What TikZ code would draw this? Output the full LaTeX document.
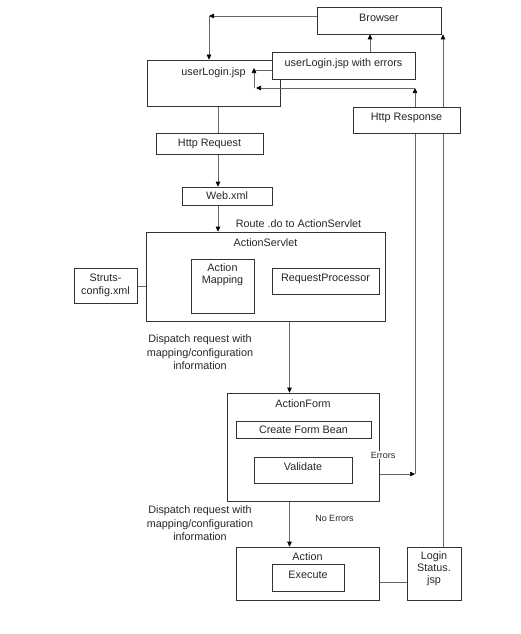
\documentclass[tikz,border=0pt]{standalone}
\usepackage{fontspec}
\setmainfont{Liberation Sans}
\usetikzlibrary{arrows.meta}
\pgfdeclarelayer{bg}
\pgfsetlayers{bg,main}
\begin{document}
\begin{tikzpicture}[x=1pt,y=-1pt,
  box/.style={draw=black!80, line width=0.6pt, fill=white, inner sep=0pt, align=center,
    text=black!85, font=\fontsize{10.8}{12}\selectfont},
  raised/.style={text depth=6pt},
  toplabel/.style={font=\fontsize{10.8}{12}\selectfont, text=black!85, align=center, inner sep=0pt},
  conn/.style={draw=black!60, line width=0.6pt},
  arr/.style={conn, -{Triangle[length=5pt,width=4.5pt,fill=black,color=black]}},
  txt/.style={font=\fontsize{10.8}{13.5}\selectfont, text=black!85, align=center, inner sep=0pt},
  smalltxt/.style={font=\fontsize{9}{11}\selectfont, text=black!85, inner sep=1pt}]
\useasboundingbox (0,0) rectangle (520,634);

% boxes
\node[box, raised, minimum width=124pt, minimum height=27pt] (browser) at (379,20.5) {Browser};
\node[box, minimum width=133pt, minimum height=46pt,
  label={[toplabel, anchor=center, yshift=-13pt]north:userLogin.jsp}] (ul) at (213.5,83) {};
\node[box, raised, minimum width=143pt, minimum height=27pt] (ule) at (343.5,65.5) {userLogin.jsp with errors};
\node[box, raised, minimum width=107pt, minimum height=26pt] (hresp) at (406.5,120) {Http Response};
\node[box, minimum width=107pt, minimum height=21pt] (hreq) at (209.5,143.5) {Http Request};
\node[box, minimum width=90pt, minimum height=18pt] (web) at (227,196) {Web.xml};
\node[box, minimum width=239pt, minimum height=89pt,
  label={[toplabel, anchor=center, yshift=-11pt]north:ActionServlet}] (as) at (265.5,276.5) {};
\node[box, minimum width=63pt, minimum height=35pt, font=\fontsize{10.8}{12.5}\selectfont] (struts) at (105.5,285.5) {Struts-\\config.xml};
\node[box, minimum width=63pt, minimum height=54pt,
  label={[toplabel, anchor=center, yshift=-16pt]north:Action\\Mapping}] (am) at (222.5,286) {};
\node[box, raised, minimum width=107pt, minimum height=26pt] (rp) at (325.5,281) {RequestProcessor};
\node[box, minimum width=152pt, minimum height=108pt,
  label={[toplabel, anchor=center, yshift=-11pt]north:ActionForm}] (af) at (303,447) {};
\node[box, minimum width=135pt, minimum height=17pt] (cfb) at (303.5,429.5) {Create Form Bean};
\node[box, raised, minimum width=98pt, minimum height=26pt] (val) at (303,470) {Validate};
\node[box, minimum width=143pt, minimum height=53pt,
  label={[toplabel, anchor=center, yshift=-10pt]north:Action}] (act) at (307.5,573.5) {};
\node[box, raised, minimum width=72pt, minimum height=27pt] (exe) at (308,577.5) {Execute};
\node[box, minimum width=54pt, minimum height=53pt,
  label={[toplabel, anchor=center, yshift=-22pt, font=\fontsize{10.8}{11.8}\selectfont]north:Login\\Status.\\jsp}] (login) at (434,573.5) {};

% texts
\node[txt] (route) at (298.5,224) {Route .do to ActionServlet};
\node[txt] (disp1) at (200,352.5) {Dispatch request with\\mapping/configuration\\information};
\node[txt] (disp2) at (200,523.5) {Dispatch request with\\mapping/configuration\\information};
\node[smalltxt, fill=white] (errs) at (383,455) {Errors};
\node[smalltxt] (noerrs) at (334.5,518) {No Errors};

% helper coordinates
\coordinate (c1) at (209,16);
\coordinate (xa) at (370,0);
\coordinate (xb) at (415,0);
\coordinate (xc) at (443,0);
\coordinate (xd) at (218,0);
\coordinate (xe) at (289.5,0);
\coordinate (l1) at (254,70);
\coordinate (l2) at (254,88);
\coordinate (l3) at (415,88);
\coordinate (v1) at (415,474);
\coordinate (ya) at (0,286);
\coordinate (yb) at (0,277);
\coordinate (yc) at (0,582);

\begin{pgfonlayer}{bg}
\draw[arr] (browser.west |- c1) -- (c1);
\draw[arr] (c1) -- (c1 |- ul.north);
\draw[arr] (ule.north -| xa) -- (browser.south -| xa);
\draw[conn] (ul.south -| xd) -- (hreq.north -| xd);
\draw[arr] (hreq.south -| xd) -- (web.north -| xd);
\draw[arr] (web.south -| xd) -- (as.north -| xd);
\draw[conn] (struts.east |- ya) -- (am.west |- ya);
\draw[arr] (am.east |- yb) -- (rp.west |- yb);
\draw[arr] (as.south -| xe) -- (af.north -| xe);
\draw[arr] (val.east |- v1) -- (v1);
\draw[conn] (v1) -- (hresp.south -| xb);
\draw[arr] (val.south -| xe) -- (act.north -| xe);
\draw[conn] (act.east |- yc) -- (login.west |- yc);
\draw[arr] (login.north -| xc) -- (browser.south -| xc);
\end{pgfonlayer}

% connectors drawn over the userLogin.jsp box
\draw[conn] (ule.west |- l1) -- (l1);
\draw[arr] (l2) -- ([yshift=2pt]l1);
\draw[arr] (hresp.north -| xb) -- (l3);
\draw[arr] (l3) -- ([xshift=2pt]l2);
\end{tikzpicture}
\end{document}
